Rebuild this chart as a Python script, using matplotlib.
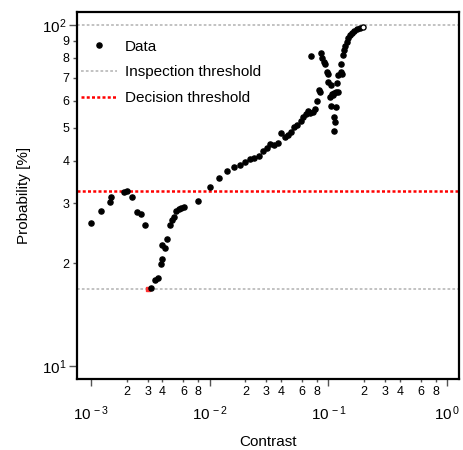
import matplotlib
matplotlib.use("Agg")
import matplotlib.pyplot as plt
from matplotlib.ticker import FixedLocator, FuncFormatter
from matplotlib.lines import Line2D
import numpy as np

plt.rcParams['font.family'] = ['Liberation Sans', 'DejaVu Sans']
plt.rcParams['mathtext.fontset'] = 'custom'
plt.rcParams['mathtext.rm'] = 'Liberation Sans'
plt.rcParams['mathtext.it'] = 'Liberation Sans:italic'
plt.rcParams['mathtext.bf'] = 'Liberation Sans:bold'

# ---- data ----
contrast = [0.00100, 0.001221, 0.001445, 0.001466, 0.001897, 0.002000, 0.002215, 0.002441,
            0.002653, 0.002867, 0.003201, 0.003441, 0.003668, 0.003865, 0.003988, 0.003988,
            0.004201, 0.004393, 0.004603, 0.004784, 0.005002, 0.005170, 0.005480, 0.005730,
            0.006039, 0.008017, 0.009961, 0.01202, 0.01390, 0.01593, 0.01794, 0.01991,
            0.02198, 0.02375, 0.02602, 0.02796, 0.03021, 0.03221, 0.03481, 0.03761,
            0.04009, 0.04310, 0.04542, 0.04840, 0.05161, 0.05471, 0.05843, 0.06074,
            0.06478, 0.06772, 0.0700, 0.0746, 0.07666, 0.07968, 0.08383, 0.08497,
            0.07095, 0.08715, 0.08885, 0.09130, 0.09362, 0.09676, 0.09827, 0.09981,
            0.1052, 0.1066, 0.1121, 0.1166, 0.1175, 0.1205, 0.1046, 0.1166,
            0.1115, 0.1143, 0.1109, 0.1269, 0.1294, 0.1284, 0.1335, 0.1353,
            0.1380, 0.1426, 0.1463, 0.1506, 0.1571, 0.1643, 0.1731, 0.1828,
            0.1212, 0.1100, 0.1032]
probability = [26.3, 28.4, 30.2, 31.3, 32.4, 32.6, 31.2, 28.2,
               27.9, 25.8, 16.9, 17.9, 18.1, 19.9, 20.6, 22.6,
               22.2, 23.6, 25.9, 26.8, 27.3, 28.5, 28.8, 29.0,
               29.2, 30.4, 33.4, 35.6, 37.2, 38.2, 38.9, 39.7,
               40.4, 40.6, 41.3, 42.6, 43.4, 44.7, 44.5, 45.1,
               48.1, 47.0, 47.6, 48.5, 50.1, 51.0, 52.2, 53.8,
               54.8, 55.8, 55.2, 55.6, 56.8, 59.9, 64.5, 63.4,
               81.1, 82.6, 79.9, 78.0, 76.7, 72.6, 71.8, 68.2,
               66.7, 62.8, 63.0, 63.5, 67.5, 71.3, 57.8, 57.3,
               53.8, 52.0, 49.0, 72.6, 71.9, 76.8, 81.6, 84.5,
               86.8, 89.3, 91.6, 93.5, 94.7, 96.0, 97.0, 98.0,
               63.7, 62.3, 61.6]
end_point = (0.1945, 98.9)
min_point = (0.003004, 16.8)
inspection_thresholds = [16.8, 100.0]
decision_threshold = 32.6

x_major = [1e-3, 1e-2, 1e-1, 1e0]
x_major_labels = [r'$10^{\,-3}$', r'$10^{\,-2}$', r'$10^{\,-1}$', r'$10^{\,0}$']
x_minor_mult = [2, 3, 4, 6, 8]
y_major = [10, 100]
y_major_labels = [r'$10^{1}$', r'$10^{2}$']
y_minor_mult = [2, 3, 4, 5, 6, 7, 8, 9]

# ---- figure ----
fig = plt.figure(figsize=(4.63, 4.5), dpi=100)
ax = fig.add_axes([77 / 463, 1 - 379 / 450, (459 - 77) / 463, (379 - 12) / 450])
ax.set_xscale('log')
ax.set_yscale('log')
ax.set_xlim(10 ** -3.118, 10 ** 0.1)
ax.set_ylim(10 ** 0.961, 10 ** 2.038)

grey_ls = (0, (1.5, 1.2))
red_ls = (0, (1.2, 0.9))
for yv in inspection_thresholds:
    ax.axhline(yv, color='#bdbdbd', lw=1.3, ls=grey_ls, zorder=1)
ax.axhline(decision_threshold, color='#ff0000', lw=1.8, ls=red_ls, zorder=1)

ms = 3.7
ax.plot(contrast, probability, 'o', color='black', ms=ms, mec='black', zorder=3)
ax.plot([end_point[0]], [end_point[1]], 'o', mfc='white', mec='black', ms=ms, mew=1, zorder=4)
ax.plot([min_point[0]], [min_point[1]], 's', color='#ff3030', ms=3, zorder=2)

# ticks
ax.xaxis.set_major_locator(FixedLocator(x_major))
ax.set_xticklabels(x_major_labels)
x_minor = [m * d for d in [1e-3, 1e-2, 1e-1] for m in x_minor_mult]
ax.xaxis.set_minor_locator(FixedLocator(x_minor))
ax.xaxis.set_minor_formatter(FuncFormatter(lambda v, p: '%d' % round(v / 10 ** np.floor(np.log10(v) + 1e-9))))

ax.yaxis.set_major_locator(FixedLocator(y_major))
ax.set_yticklabels(y_major_labels)
y_minor = [m * 10 for m in y_minor_mult]
ax.yaxis.set_minor_locator(FixedLocator(y_minor))
ax.yaxis.set_minor_formatter(FuncFormatter(lambda v, p: '%d' % round(v / 10)))

ax.tick_params(axis='x', which='major', length=5, width=1, pad=13, labelsize=11, color='#555555')
ax.tick_params(axis='x', which='minor', length=2.5, width=1, pad=2.5, labelsize=9, color='#555555')
ax.tick_params(axis='y', which='major', length=6, width=1, pad=1.5, labelsize=11, color='#555555')
ax.tick_params(axis='y', which='minor', length=3, width=1, pad=2.5, labelsize=9, color='#555555')

for s in ax.spines.values():
    s.set_linewidth(1.6)

ax.set_xlabel('Contrast', fontsize=11, labelpad=9)
ax.set_ylabel('Probability [%]', fontsize=11, labelpad=8)

handles = [Line2D([], [], ls='none', marker='o', color='black', ms=ms),
           Line2D([], [], color='#bdbdbd', lw=1.3, ls=grey_ls),
           Line2D([], [], color='#ff0000', lw=1.8, ls=red_ls)]
ax.legend(handles, ['Data', 'Inspection threshold', 'Decision threshold'],
          loc='upper left', bbox_to_anchor=(0.0, 0.935), frameon=False, fontsize=11,
          handlelength=2.35, handletextpad=0.55, labelspacing=0.76, borderaxespad=0.0,
          borderpad=0.25)

fig.savefig('out.png', dpi=100)
